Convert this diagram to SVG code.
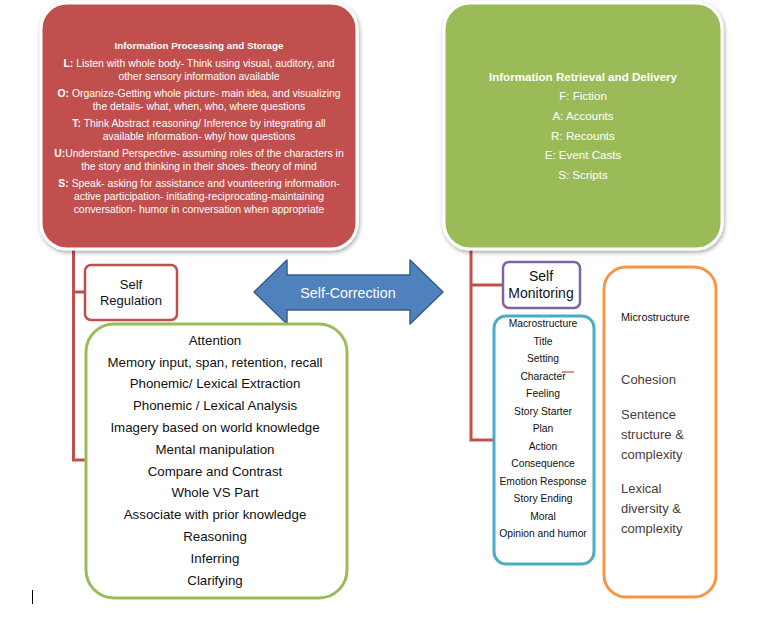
<svg xmlns="http://www.w3.org/2000/svg" width="759" height="626" viewBox="0 0 759 626">
<defs>
<filter id="sh" x="-10%" y="-10%" width="120%" height="120%">
<feDropShadow dx="1" dy="2" stdDeviation="2" flood-color="#000" flood-opacity="0.35"/>
</filter>
<style>
text{font-family:"Liberation Sans",Arial,sans-serif;text-anchor:middle}
.wt{fill:#ffffff}
.rb{font-size:10.4px}
.gb{font-size:11.6px}
.bold{font-weight:bold}
.dk{fill:#111111}
.at{font-size:13.3px}
.mac{font-size:10.3px}
.mic{fill:#4a3a3a;font-size:13px;text-anchor:start}
.conn{fill:none;stroke:#C0504D;stroke-width:3}
</style>
</defs>
<rect width="759" height="626" fill="#ffffff"/>

<g id="connectors">
<path class="conn" d="M73.5,248 V460 H86 M73.5,292 H85"/>
<path class="conn" d="M471,248 V440 H494 M471,285 H503"/>
</g>

<g id="processing">
<rect x="41" y="3" width="316" height="246" rx="26" fill="#C0504D" stroke="#ffffff" stroke-width="3" filter="url(#sh)"/>
<text class="wt bold" x="199" y="49" font-size="9.8">Information Processing and Storage</text>
<text class="wt rb" x="199" y="67"><tspan font-weight="bold">L:</tspan> Listen with whole body- Think using visual, auditory, and</text>
<text class="wt rb" x="199" y="80">other sensory information available</text>
<text class="wt rb" x="199" y="97"><tspan font-weight="bold">O:</tspan> Organize-Getting whole picture- main idea, and visualizing</text>
<text class="wt rb" x="199" y="110">the details- what, when, who, where questions</text>
<text class="wt rb" x="199" y="127"><tspan font-weight="bold">T:</tspan> Think Abstract reasoning/ Inference by integrating all</text>
<text class="wt rb" x="199" y="140">available information- why/ how questions</text>
<text class="wt rb" x="199" y="157"><tspan font-weight="bold">U:</tspan>Understand Perspective- assuming roles of the characters in</text>
<text class="wt rb" x="199" y="170">the story and thinking in their shoes- theory of mind</text>
<text class="wt rb" x="199" y="187"><tspan font-weight="bold">S:</tspan> Speak-  asking for assistance and vounteering information-</text>
<text class="wt rb" x="199" y="200">active participation- initiating-reciprocating-maintaining</text>
<text class="wt rb" x="199" y="213">conversation- humor in conversation when appropriate</text>
</g>

<g id="retrieval">
<rect x="444" y="3" width="278" height="246" rx="26" fill="#9BBB59" stroke="#ffffff" stroke-width="3" filter="url(#sh)"/>
<text class="wt gb bold" x="583" y="81">Information Retrieval and Delivery</text>
<text class="wt gb" x="583" y="100">F: Fiction</text>
<text class="wt gb" x="583" y="120">A: Accounts</text>
<text class="wt gb" x="583" y="140">R: Recounts</text>
<text class="wt gb" x="583" y="159">E: Event Casts</text>
<text class="wt gb" x="583" y="179">S: Scripts</text>
</g>

<g id="self-regulation">
<rect x="85" y="265" width="92" height="55" rx="6" fill="#ffffff" stroke="#C0504D" stroke-width="2.5"/>
<text class="dk" x="131" y="289" font-size="13">Self</text>
<text class="dk" x="131" y="305" font-size="13">Regulation</text>
</g>

<g id="self-correction">
<path d="M254,292 L287,260 V275 H410 V260 L443,292 L410,324 V310 H287 V324 Z" fill="#4F81BD" stroke="#385D8A" stroke-width="1.5" stroke-linejoin="round"/>
<text class="wt" x="348" y="298" font-size="14.3">Self-Correction</text>
</g>

<g id="attention">
<rect x="86" y="324" width="261" height="274" rx="28" fill="#ffffff" stroke="#9BBB59" stroke-width="3"/>
<text class="dk at" x="215" y="345">Attention</text>
<text class="dk at" x="215" y="367">Memory input, span, retention, recall</text>
<text class="dk at" x="215" y="388">Phonemic/ Lexical Extraction</text>
<text class="dk at" x="215" y="410">Phonemic / Lexical Analysis</text>
<text class="dk at" x="215" y="432">Imagery based on world knowledge</text>
<text class="dk at" x="215" y="454">Mental manipulation</text>
<text class="dk at" x="215" y="476">Compare and Contrast</text>
<text class="dk at" x="215" y="497">Whole VS Part</text>
<text class="dk at" x="215" y="519">Associate with prior knowledge</text>
<text class="dk at" x="215" y="541">Reasoning</text>
<text class="dk at" x="215" y="563">Inferring</text>
<text class="dk at" x="215" y="585">Clarifying</text>
</g>

<g id="self-monitoring">
<rect x="503" y="262" width="77" height="46" rx="6" fill="#ffffff" stroke="#8064A2" stroke-width="2.5"/>
<text class="dk" x="541" y="281" font-size="14">Self</text>
<text class="dk" x="541" y="298" font-size="14">Monitoring</text>
</g>

<g id="macrostructure">
<rect x="494" y="316" width="100" height="248" rx="12" fill="#ffffff" stroke="#4BACC6" stroke-width="3"/>
<text class="dk mac" x="543" y="327">Macrostructure</text>
<text class="dk mac" x="543" y="345">Title</text>
<text class="dk mac" x="543" y="362">Setting</text>
<text class="dk mac" x="543" y="380">Character</text>
<text class="dk mac" x="543" y="397">Feeling</text>
<text class="dk mac" x="543" y="415">Story Starter</text>
<text class="dk mac" x="543" y="432">Plan</text>
<text class="dk mac" x="543" y="450">Action</text>
<text class="dk mac" x="543" y="467">Consequence</text>
<text class="dk mac" x="543" y="485">Emotion Response</text>
<text class="dk mac" x="543" y="502">Story Ending</text>
<text class="dk mac" x="543" y="520">Moral</text>
<text class="dk mac" x="543" y="537">Opinion and humor</text>
<path d="M562,372 H574" stroke="#8B3A3A" stroke-width="1" fill="none"/>
</g>

<g id="microstructure">
<rect x="604" y="267" width="112" height="330" rx="22" fill="#ffffff" stroke="#F79646" stroke-width="3"/>
<text class="dk" x="621" y="321" font-size="10.8" style="text-anchor:start">Microstructure</text>
<text class="mic" x="621" y="384">Cohesion</text>
<text class="mic" x="621" y="419">Sentence</text>
<text class="mic" x="621" y="439">structure &amp;</text>
<text class="mic" x="621" y="459">complexity</text>
<text class="mic" x="621" y="493">Lexical</text>
<text class="mic" x="621" y="513">diversity &amp;</text>
<text class="mic" x="621" y="533">complexity</text>
</g>

<path d="M32.5,590 V604" stroke="#000000" stroke-width="1"/>
</svg>
